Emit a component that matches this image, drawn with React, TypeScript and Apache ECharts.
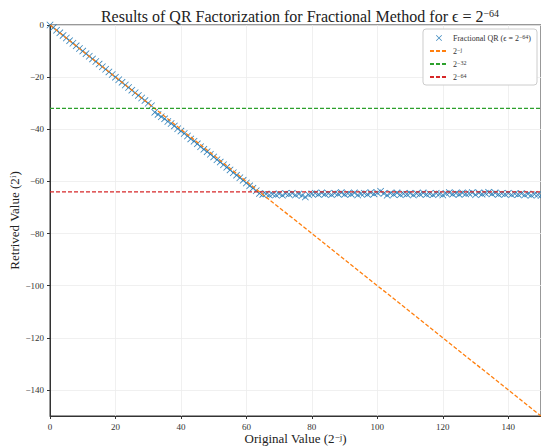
import React, { useEffect, useRef } from "react";
import * as echarts from "echarts";

const retrieved: number[] = [
  0, -1, -2, -3, -4, -5, -6, -7, -8, -9, -10, -11, -12, -13, -14, -15,
  -16, -17, -18, -19, -20, -21, -22, -23, -24, -25, -26, -27, -28, -29, -30, -31,
  -33.5, -34.3, -35.2, -36.0, -37.0, -37.8, -38.7, -39.8, -40.7, -41.6, -42.6, -43.7,
  -44.6, -45.6, -46.7, -47.7, -48.6, -49.6, -50.6, -51.7, -52.6, -53.6, -54.6, -55.6,
  -56.7, -57.6, -58.6, -59.6, -60.6, -61.7, -62.6, -63.6,
  -64.6, -65.0, -64.8, -65.2, -64.9, -65.1, -64.7, -65.3, -64.6, -64.9, -64.5, -65.2,
  -64.8, -65.4, -66.0, -65.1, -64.7, -64.5, -65.0, -64.4, -64.9, -64.6, -65.1, -64.5,
  -64.8, -64.3, -65.0, -64.6, -64.9, -64.4, -65.2, -64.7, -64.5, -65.0, -64.3, -64.8,
  -64.4, -63.8, -64.6, -65.3, -64.5, -65.0, -64.4, -65.1, -64.7, -64.9, -64.5, -65.2,
  -64.6, -64.9, -64.4, -65.0, -64.7, -65.1, -64.5, -64.8, -65.2, -64.6, -64.3, -64.9,
  -64.5, -65.0, -64.4, -64.8, -64.6, -64.3, -65.1, -64.4, -64.9, -64.5, -64.2, -64.8,
  -64.4, -65.0, -64.6, -64.9, -64.5, -65.1, -64.7, -65.0, -64.6, -65.2, -64.8, -65.3,
  -64.9, -65.1, -65.4,
];

const refLine: number[][] = [[0, 0], [150, -150]];
const line32: number[][] = [[0, -32], [150, -32]];
const line64: number[][] = [[0, -64], [150, -64]];
const yTicks: number[] = [0, -20, -40, -60, -80, -100, -120, -140];

const FONT = "Liberation Serif";
const CROSS = "path://M0,0.8L0.8,0L5,4.2L9.2,0L10,0.8L5.8,5L10,9.2L9.2,10L5,5.8L0.8,10L0,9.2L4.2,5Z";

const fmt = (v: number) => (v < 0 ? "\u2212" + String(-v) : String(v));

export default function App() {
  const ref = useRef<HTMLDivElement>(null);
  useEffect(() => {
    if (!ref.current) return;
    const chart = echarts.init(ref.current, null, { renderer: "svg" });
    const sup = { fontFamily: FONT, fontSize: 9, verticalAlign: "top", color: "#222", lineHeight: 10 };
    const supS = { fontFamily: FONT, fontSize: 6, color: "#333", verticalAlign: "top", lineHeight: 6 };
    chart.setOption({
      animation: false,
      backgroundColor: "#fff",
      title: {
        text: "Results of QR Factorization for Fractional Method for \u03f5 = 2{s|\u221264}",
        left: 295,
        textAlign: "center",
        top: 3,
        textStyle: {
          fontFamily: FONT,
          fontSize: 16,
          fontWeight: "normal",
          color: "#222",
          rich: { s: { ...sup, fontSize: 10, padding: [0, 0, 6, 0] } },
        },
      },
      grid: {
        left: 50, right: 0, top: 25, bottom: 30,
        outerBoundsMode: "none", containLabel: false,
        show: true, borderColor: "#333", borderWidth: 1,
      },
      legend: {
        orient: "vertical",
        right: 4,
        top: 29,
        backgroundColor: "#fff",
        borderColor: "#ccc",
        borderWidth: 1,
        borderRadius: 3,
        padding: [5, 6, 4, 6],
        itemWidth: 18,
        itemHeight: 6,
        itemGap: 5,
        textStyle: {
          fontFamily: FONT,
          fontSize: 8,
          color: "#333",
          rich: { s: supS },
        },
        data: [
          { name: "Fractional QR (\u03f5 = 2{s|\u221264})", icon: CROSS, itemStyle: { color: "#1f77b4" } },
          { name: "2{s|\u2212j}", itemStyle: { opacity: 0 } },
          { name: "2{s|\u221232}", itemStyle: { opacity: 0 } },
          { name: "2{s|\u221264}", itemStyle: { opacity: 0 } },
        ],
      },
      xAxis: {
        type: "value",
        min: 0,
        max: 150,
        interval: 20,
        name: "Original Value (2{s|\u2212j})",
        nameLocation: "middle",
        nameGap: 16,
        nameMoveOverlap: false,
        nameTextStyle: { fontFamily: FONT, fontSize: 13, color: "#222", rich: { s: { ...sup, padding: [0, 0, 5, 0] } } },
        axisLine: { show: true, onZero: false, lineStyle: { color: "#333", width: 1 } },
        axisTick: { show: true, length: 3, inside: false, lineStyle: { color: "#333" } },
        axisLabel: { fontFamily: FONT, fontSize: 9, color: "#333", margin: 6, formatter: fmt, showMaxLabel: false },
        splitLine: { show: true, lineStyle: { color: "#ececec", width: 0.8 } },
      },
      yAxis: {
        type: "value",
        min: -150,
        max: 0,
        name: "Retrived Value (2{s|i})",
        nameLocation: "middle",
        nameGap: 29,
        nameMoveOverlap: false,
        nameRotate: 90,
        nameTextStyle: { fontFamily: FONT, fontSize: 13, color: "#222", rich: { s: { ...sup, padding: [0, 0, 5, 0] } } },
        axisLine: { show: true, onZero: false, lineStyle: { color: "#333", width: 1 } },
        axisTick: { show: true, length: 3, inside: false, customValues: yTicks, lineStyle: { color: "#333" } },
        axisLabel: { fontFamily: FONT, fontSize: 9, color: "#333", margin: 6, formatter: fmt, customValues: yTicks },
        splitLine: { show: true, lineStyle: { color: "#ececec", width: 0.8 } },
      },
      series: [
        {
          name: "Fractional QR (\u03f5 = 2{s|\u221264})",
          type: "scatter",
          symbol: CROSS,
          symbolSize: 7,
          itemStyle: { color: "#1f77b4", opacity: 0.9 },
          data: retrieved.map((v, i) => [i, v]),
          z: 2,
        },
        {
          name: "2{s|\u2212j}",
          type: "line",
          symbol: "none",
          data: refLine,
          lineStyle: { color: "#ff7f0e", width: 1.3, type: [4, 2] },
          itemStyle: { color: "#ff7f0e" },
          z: 3,
        },
        {
          name: "2{s|\u221232}",
          type: "line",
          symbol: "none",
          data: line32,
          lineStyle: { color: "#2ca02c", width: 1.3, type: [4, 2] },
          itemStyle: { color: "#2ca02c" },
          z: 3,
        },
        {
          name: "2{s|\u221264}",
          type: "line",
          symbol: "none",
          data: line64,
          lineStyle: { color: "#d62728", width: 1.3, type: [4, 2] },
          itemStyle: { color: "#d62728" },
          z: 3,
        },
      ],
    });
    return () => chart.dispose();
  }, []);
  return <div ref={ref} style={{ position: "fixed", left: 0, top: 0, width: 541, height: 446 }} />;
}
